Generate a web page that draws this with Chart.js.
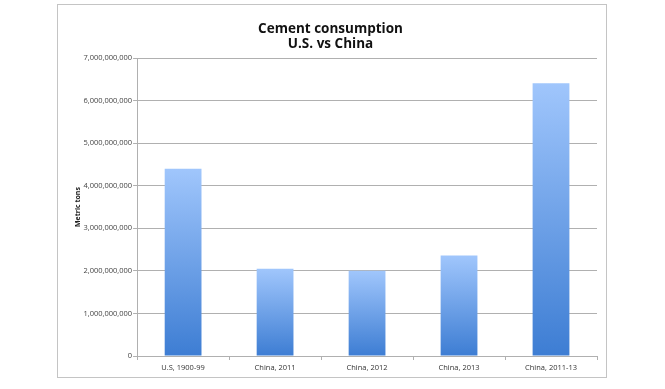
<!DOCTYPE html>
<html>
<head>
<meta charset="utf-8">
<script src="https://cdn.jsdelivr.net/npm/chart.js@4"></script>
<style>
  body { margin: 0; background: #fff; }
  #frame { position: absolute; left: 57px; top: 4px; width: 550px; height: 374px; border: 1px solid #c4c4c4; box-sizing: border-box; }
  canvas { display: block; }
</style>
</head>
<body>
<div id="frame"><canvas id="chart" width="548" height="372"></canvas></div>
<script>
// dados
const categorias = ["U.S, 1900-99", "China, 2011", "China, 2012", "China, 2013", "China, 2011-13"];
const consumo = [4400000000, 2050000000, 2000000000, 2360000000, 6410000000];
const tituloLinhas = ["Cement consumption", "U.S. vs China"];
const eixoY = "Metric tons";

// degradê por barra: claro no topo, escuro na base
function gradiente(ctx) {
  const chart = ctx.chart;
  if (!chart.chartArea || ctx.raw == null) return "#6aa0ea";
  const escala = chart.scales.y;
  const topo = escala.getPixelForValue(ctx.raw);
  const base = escala.getPixelForValue(0);
  const g = chart.ctx.createLinearGradient(0, topo, 0, base);
  g.addColorStop(0, "#a0c6fc");
  g.addColorStop(1, "#3d7dd3");
  return g;
}

new Chart(document.getElementById("chart"), {
  type: "bar",
  data: {
    labels: categorias,
    datasets: [{
      data: consumo,
      backgroundColor: gradiente,
      borderWidth: 0,
      categoryPercentage: 1,
      barPercentage: 0.4
    }]
  },
  options: {
    responsive: false,
    animation: false,
    layout: { padding: { left: 6, right: 9, top: 0, bottom: 2 } },
    plugins: {
      legend: { display: false },
      tooltip: { enabled: false },
      title: {
        display: true,
        text: tituloLinhas,
        color: "#111",
        font: { family: "Open Sans", size: 13.5, weight: "bold", lineHeight: 1.15 },
        padding: { top: 16, bottom: 6 }
      }
    },
    scales: {
      y: {
        min: 0,
        max: 7000000000,
        ticks: {
          stepSize: 1000000000,
          color: "#444",
          font: { family: "Open Sans", size: 7.5 },
          padding: 1,
          callback: v => Number(v).toLocaleString("en-US")
        },
        grid: { color: "#b0b0b0", tickLength: 4, tickColor: "#b0b0b0" },
        border: { color: "#b0b0b0" },
        title: {
          display: true,
          text: eixoY,
          color: "#222",
          font: { family: "Open Sans", size: 7, weight: "bold" },
          padding: { top: 10, bottom: 0 }
        }
      },
      x: {
        ticks: {
          color: "#333",
          font: { family: "Open Sans", size: 7.5 },
          padding: 3
        },
        grid: { drawOnChartArea: false, tickLength: 4, color: "#b0b0b0" },
        border: { color: "#b0b0b0" }
      }
    }
  }
});
</script>
</body>
</html>
